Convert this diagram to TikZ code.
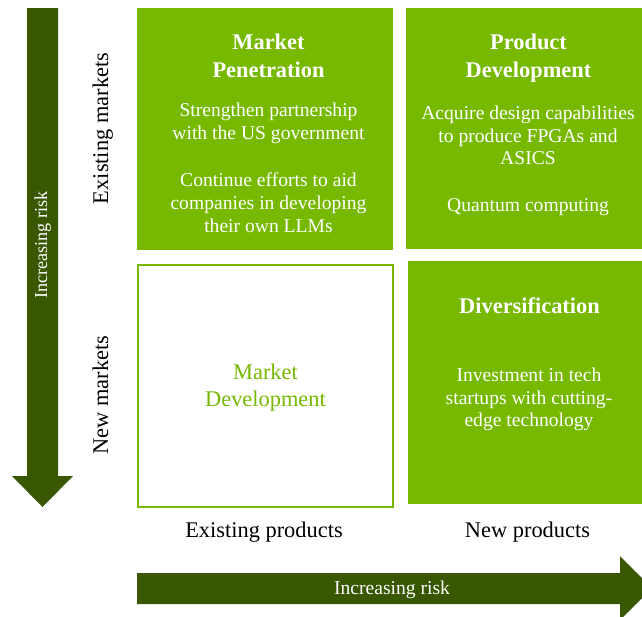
\documentclass[tikz,border=0pt]{standalone}
\usepackage{fontspec}
\setmainfont{Liberation Serif}
\definecolor{nvgreen}{RGB}{118,185,0}
\definecolor{darkgreen}{RGB}{56,87,0}
\tikzset{
  quad/.style={fill=nvgreen, draw=none, inner sep=0, outer sep=0},
  openquad/.style={fill=white, draw=nvgreen, line width=2pt, inner sep=0, outer sep=0},
  ttl/.style={anchor=base, inner sep=0, text=white, font=\fontsize{22.4}{28}\selectfont\bfseries},
  bdy/.style={anchor=base, inner sep=0, text=white, font=\fontsize{19.6}{23.5}\selectfont},
  gtxt/.style={anchor=base, inner sep=0, text=nvgreen, font=\fontsize{22.4}{28}\selectfont},
  axl/.style={anchor=base, inner sep=0, text=black, font=\fontsize{22.4}{27}\selectfont},
  risk/.style={anchor=base, inner sep=0, text=white},
  bigarrow/.style={fill=darkgreen, draw=none}
}
\begin{document}
\begin{tikzpicture}[x=1pt,y=-1pt]
  \useasboundingbox (0,0) rectangle (642,616);
  \clip (0,0) rectangle (642,616);

  % arrows
  \fill[bigarrow] (27,8) -- (58,8) -- (58,476) -- (73,476) -- (42.5,507) -- (12,476) -- (27,476) -- cycle;
  \fill[bigarrow] (137,573) -- (620,573) -- (620,556) -- (652,588) -- (620,620) -- (620,604) -- (137,604) -- cycle;
  \node[risk, rotate=90, font=\fontsize{18.2}{22}\selectfont] (riskv) at (47,245) {Increasing risk};
  \node[risk, font=\fontsize{19.6}{23}\selectfont] (riskh) at (392,594) {Increasing risk};

  % quadrants
  \node[quad, minimum width=256, minimum height=242] (mp) at (265,129) {};
  \node[quad, minimum width=244, minimum height=241] (pd) at (528,128.5) {};
  \node[openquad, minimum width=255, minimum height=242] (md) at (265,385.5) {};
  \node[quad, minimum width=244, minimum height=243] (dv) at (530,382.5) {};

  % market penetration
  \node[ttl] (mp1) at (268.5,49) {Market};
  \node[ttl] (mp2) at (268.5,77) {Penetration};
  \node[bdy] (mp3) at (268.5,116) {Strengthen partnership};
  \node[bdy] (mp4) at (268.5,139.5) {with the US government};
  \node[bdy] (mp5) at (268.5,186.5) {Continue efforts to aid};
  \node[bdy] (mp6) at (268.5,209) {companies in developing};
  \node[bdy] (mp7) at (268.5,232) {their own LLMs};

  % product development
  \node[ttl] (pd1) at (528.5,49) {Product};
  \node[ttl] (pd2) at (528.5,77) {Development};
  \node[bdy] (pd3) at (528,119.3) {Acquire design capabilities};
  \node[bdy] (pd4) at (528,142) {to produce FPGAs and};
  \node[bdy] (pd5) at (528,164.5) {ASICS};
  \node[bdy] (pd6) at (528,211.7) {Quantum computing};

  % market development
  \node[gtxt] (md1) at (265.5,379.3) {Market};
  \node[gtxt] (md2) at (265.5,406.8) {Development};

  % diversification
  \node[ttl] (dv1) at (529.5,313.3) {Diversification};
  \node[bdy] (dv2) at (529,381.7) {Investment in tech};
  \node[bdy] (dv3) at (529,404) {startups with cutting-};
  \node[bdy] (dv4) at (529,426.7) {edge technology};

  % axis labels
  \node[axl, rotate=90] (em) at (108,128.5) {Existing markets};
  \node[axl, rotate=90] (nm) at (108,395) {New markets};
  \node[axl] (ep) at (264,537) {Existing products};
  \node[axl] (np) at (527.5,537) {New products};
\end{tikzpicture}
\end{document}
